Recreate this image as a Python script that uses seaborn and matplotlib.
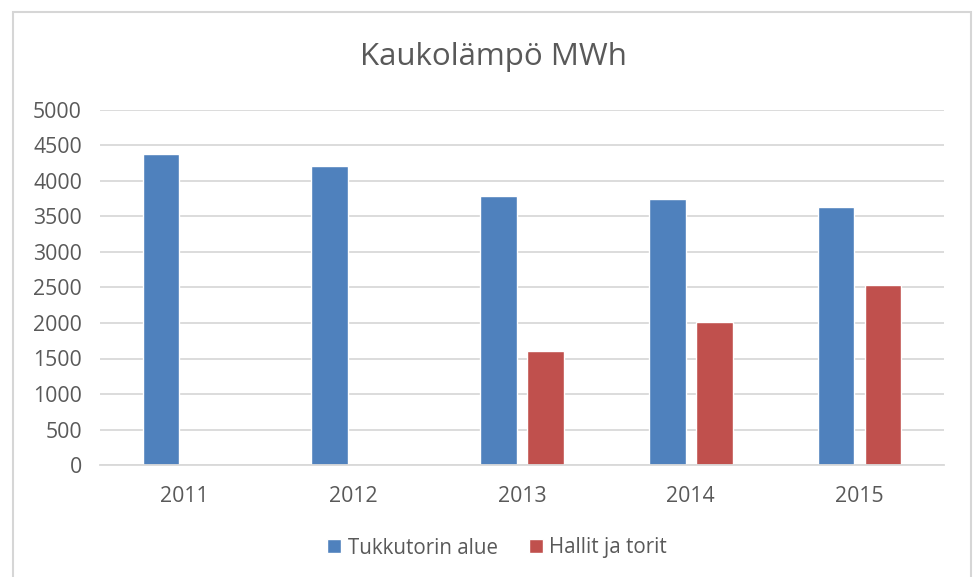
import matplotlib
matplotlib.use("Agg")
import matplotlib.pyplot as plt
import seaborn as sns
import pandas as pd
from matplotlib.patches import Rectangle

years = ["2011", "2012", "2013", "2014", "2015"]
tukkutori = [4380, 4210, 3790, 3750, 3640]
hallit = [0, 0, 1610, 2010, 2540]
series_names = ["Tukkutorin alue", "Hallit ja torit"]
yticks = [0, 500, 1000, 1500, 2000, 2500, 3000, 3500, 4000, 4500, 5000]

df = pd.DataFrame({
    "Vuosi": years * 2,
    "MWh": tukkutori + hallit,
    "Sarja": [series_names[0]] * len(years) + [series_names[1]] * len(years),
})

sns.set_theme(style="white")
plt.rcParams["font.family"] = ["Open Sans", "DejaVu Sans"]

W, H = 973, 577
fig = plt.figure(figsize=(W / 100, H / 100), dpi=100)
ax = fig.add_axes([100 / W, 1 - 465 / H, (944 - 100) / W, (465 - 110) / H])

sns.barplot(data=df, x="Vuosi", y="MWh", hue="Sarja", ax=ax,
            palette=["#4F81BD", "#C0504D"], width=0.556, gap=0.22,
            saturation=1, legend=True)

ax.set_ylim(0, 5000)
ax.set_yticks(yticks)
ax.set_yticklabels([str(t) for t in yticks])
ax.yaxis.grid(True, color="#D9D9D9", linewidth=1.3)
ax.set_axisbelow(True)
for s in ["top", "right", "left"]:
    ax.spines[s].set_visible(False)
ax.spines["bottom"].set_color("#D9D9D9")
ax.spines["bottom"].set_linewidth(1.3)
ax.tick_params(axis="both", length=0, labelsize=15.3, labelcolor="#595959")
ax.tick_params(axis="y", pad=13)
ax.tick_params(axis="x", pad=15)
ax.set_xlabel("")
ax.set_ylabel("")

fig.text(493 / W, 1 - 64.5 / H, "Kaukolämpö MWh", ha="center", va="baseline",
         fontsize=22.5, color="#595959")

leg = ax.legend(loc="center", bbox_to_anchor=(497 / W, 1 - 548 / H),
                bbox_transform=fig.transFigure, ncol=2, frameon=False,
                fontsize=14.8, handlelength=0.68, handleheight=0.68,
                columnspacing=1.5, handletextpad=0.32, borderpad=0,
                borderaxespad=0)
for t in leg.get_texts():
    t.set_color("#595959")

fig.patches.append(Rectangle((12.5 / W, -0.02), (970.5 - 12.5) / W, 1.02 - 12.3 / H,
                             transform=fig.transFigure, fill=False,
                             edgecolor="#D6D6D6", linewidth=1.5))

fig.savefig("out.png", dpi=100, facecolor="white")
